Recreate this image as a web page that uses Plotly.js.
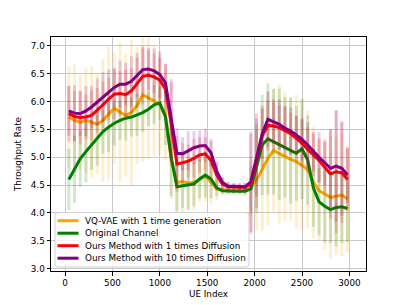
<!DOCTYPE html>
<html>
<head>
<meta charset="utf-8">
<script src="https://cdn.plot.ly/plotly-3.0.1.min.js"></script>
<style>html,body{margin:0;padding:0;background:#fff;}#chart{width:407px;height:305px;}</style>
</head>
<body>
<div id="chart"></div>
<script>
const ueIndex = [40,100,160,220,280,340,400,460,520,580,640,700,760,820,880,940,1000,1060,1120,1180,1240,1300,1360,1420,1480,1540,1600,1660,1720,1780,1840,1900,1960,2020,2080,2140,2200,2260,2320,2380,2440,2500,2560,2620,2680,2740,2800,2860,2920,2980];

const vqvae = [5.72,5.66,5.63,5.66,5.63,5.59,5.66,5.78,5.88,5.81,5.75,5.80,5.93,6.12,6.06,6.01,5.95,5.75,4.95,4.55,4.56,4.54,4.55,4.60,4.66,4.55,4.43,4.41,4.41,4.41,4.41,4.41,4.44,4.59,4.78,4.98,5.12,5.06,5.01,4.96,4.92,4.85,4.78,4.55,4.40,4.34,4.28,4.30,4.32,4.25];
const vqvaeErr = [0.9,1.0,0.85,0.95,1.0,0.9,1.1,1.2,1.0,1.25,1.1,1.3,1.05,1.2,1.1,1.0,0.9,0.8,0.7,0.5,0.55,0.45,0.5,0.4,0.45,0.4,0.2,0.1,0.08,0.08,0.08,0.1,0.5,0.9,1.1,1.2,1.1,1.25,1.15,1.1,1.2,1.15,1.05,1.0,0.9,1.0,1.1,1.05,1.1,0.95];

const original = [4.60,4.78,4.97,5.10,5.22,5.35,5.46,5.54,5.61,5.66,5.70,5.72,5.76,5.80,5.86,5.94,5.97,5.72,5.00,4.47,4.49,4.50,4.52,4.61,4.68,4.61,4.45,4.40,4.39,4.39,4.39,4.39,4.43,4.80,5.22,5.33,5.28,5.23,5.18,5.12,5.07,5.15,4.95,4.45,4.20,4.12,4.06,4.10,4.11,4.08];
const originalErr = [0.55,0.6,0.5,0.55,0.45,0.5,0.4,0.45,0.4,0.35,0.4,0.35,0.38,0.35,0.3,0.35,0.3,0.5,0.7,0.45,0.4,0.45,0.4,0.35,0.4,0.35,0.15,0.06,0.05,0.05,0.05,0.06,0.4,0.8,0.9,1.0,0.95,1.0,0.9,0.95,0.85,0.9,0.8,0.7,0.6,0.65,0.6,0.7,0.65,0.6];

const diff1 = [5.78,5.73,5.71,5.72,5.75,5.84,5.94,6.04,6.13,6.14,6.12,6.19,6.33,6.45,6.47,6.44,6.38,6.22,5.60,4.88,4.90,4.93,4.98,5.04,5.06,4.94,4.68,4.52,4.47,4.46,4.46,4.46,4.52,4.94,5.38,5.57,5.56,5.53,5.48,5.42,5.34,5.25,5.14,5.04,4.94,4.82,4.70,4.74,4.72,4.60];
const diff1Err = [0.5,0.45,0.48,0.4,0.45,0.4,0.42,0.38,0.45,0.4,0.45,0.4,0.45,0.5,0.45,0.42,0.4,0.45,0.75,0.5,0.35,0.3,0.35,0.32,0.3,0.35,0.25,0.12,0.08,0.07,0.07,0.08,0.9,0.85,0.55,0.45,0.42,0.4,0.45,0.38,0.4,0.42,0.4,0.38,0.4,0.45,0.8,1.1,0.9,0.55];

const diff10 = [5.83,5.79,5.78,5.83,5.90,5.99,6.08,6.17,6.25,6.31,6.31,6.36,6.47,6.57,6.58,6.55,6.48,6.33,5.70,5.07,5.06,5.12,5.17,5.20,5.21,5.08,4.75,4.55,4.48,4.48,4.47,4.47,4.56,5.00,5.42,5.68,5.64,5.59,5.52,5.47,5.40,5.32,5.22,5.10,5.00,4.90,4.80,4.84,4.80,4.68];
const diff10Err = [0.45,0.5,0.4,0.45,0.38,0.42,0.45,0.4,0.35,0.42,0.38,0.45,0.4,0.42,0.38,0.4,0.42,0.35,0.7,0.45,0.3,0.35,0.3,0.28,0.3,0.25,0.15,0.1,0.08,0.06,0.06,0.07,0.9,0.7,0.45,0.5,0.4,0.45,0.38,0.42,0.35,0.38,0.4,0.35,0.45,0.4,0.7,1.0,0.85,0.5];

const seriesNames = ["VQ-VAE with 1 time generation","Original Channel","Ours Method with 1 times Diffusion","Ours Method with 10 times Diffusion"];
const xTicks = [0,500,1000,1500,2000,2500,3000];
const yTicks = [3.0,3.5,4.0,4.5,5.0,5.5,6.0,6.5,7.0];

const values = [vqvae, original, diff1, diff10];
const errs = [vqvaeErr, originalErr, diff1Err, diff10Err];
const lineColors = ["#FFA500","#008000","#FF0000","#800080"];
const barColors = ["rgba(255,165,0,0.18)","rgba(0,128,0,0.18)","rgba(255,0,0,0.18)","rgba(128,0,128,0.18)"];

const FONT = 'DejaVu Sans';
const FS = 8.8;

const traces = values.map((v,i)=>({
  type:'scatter', mode:'lines', x:ueIndex, y:v, name:seriesNames[i], showlegend:false,
  line:{color:lineColors[i], width:3},
  error_y:{type:'data', array:errs[i], visible:true, color:barColors[i], thickness:3, width:0}
}));

// Legend drawn as shapes + annotations (matplotlib-style compact legend)
const W = 407, H = 305, ML = 51, MR = 41, MT = 37, MB = 34;
const PW = W - ML - MR, PH = H - MT - MB;
const px2x = p => (p - ML) / PW;
const py2y = p => (H - MB - p) / PH;

const boxL = px2x(55), boxR = px2x(249), boxT = py2y(212.5), boxB = py2y(267);
const rx = 3 / PW, ry = 3 / PH;
const shapes = [{
  type:'path', xref:'paper', yref:'paper', layer:'above',
  path:`M ${boxL+rx} ${boxB} L ${boxR-rx} ${boxB} Q ${boxR} ${boxB} ${boxR} ${boxB+ry} L ${boxR} ${boxT-ry} Q ${boxR} ${boxT} ${boxR-rx} ${boxT} L ${boxL+rx} ${boxT} Q ${boxL} ${boxT} ${boxL} ${boxT-ry} L ${boxL} ${boxB+ry} Q ${boxL} ${boxB} ${boxL+rx} ${boxB} Z`,
  fillcolor:'rgba(255,255,255,0.8)', line:{color:'#d0d0d0', width:1}
}];
const annotations = [];
const entryY = [220.7, 233.2, 245.7, 258.2];
seriesNames.forEach((name,i)=>{
  const y = py2y(entryY[i]);
  shapes.push({type:'line', xref:'paper', yref:'paper', layer:'above',
    x0:px2x(57.5), x1:px2x(78.5), y0:y, y1:y, line:{color:lineColors[i], width:3}});
  annotations.push({xref:'paper', yref:'paper', x:px2x(83), y:y, xanchor:'left', yanchor:'middle',
    text:name, showarrow:false, font:{family:FONT, size:FS, color:'#000'}});
});

const axisCommon = {
  showline:true, mirror:true, linecolor:'#000', linewidth:1,
  ticks:'outside', ticklen:3.5, tickcolor:'#000', tickwidth:1,
  showgrid:true, gridcolor:'#c8c8c8', gridwidth:1, zeroline:false,
  tickfont:{family:FONT, size:FS, color:'#000'}
};

const layout = {
  width:W, height:H,
  margin:{l:ML, r:MR, t:MT, b:MB, pad:0},
  paper_bgcolor:'#fff', plot_bgcolor:'#fff',
  showlegend:false,
  xaxis:Object.assign({}, axisCommon, {
    range:[-148,3175], tickvals:xTicks, ticktext:xTicks.map(String),
    title:{text:'UE Index', font:{family:FONT, size:FS, color:'#000'}, standoff:3}
  }),
  yaxis:Object.assign({}, axisCommon, {
    range:[2.96,7.155], tickvals:yTicks, ticktext:yTicks.map(v=>v.toFixed(1)),
    title:{text:'Throughput Rate', font:{family:FONT, size:FS, color:'#000'}, standoff:7}
  }),
  shapes:shapes,
  annotations:annotations,
  font:{family:FONT, size:FS, color:'#000'}
};

Plotly.newPlot('chart', traces, layout, {displayModeBar:false, staticPlot:true});
</script>
</body>
</html>
